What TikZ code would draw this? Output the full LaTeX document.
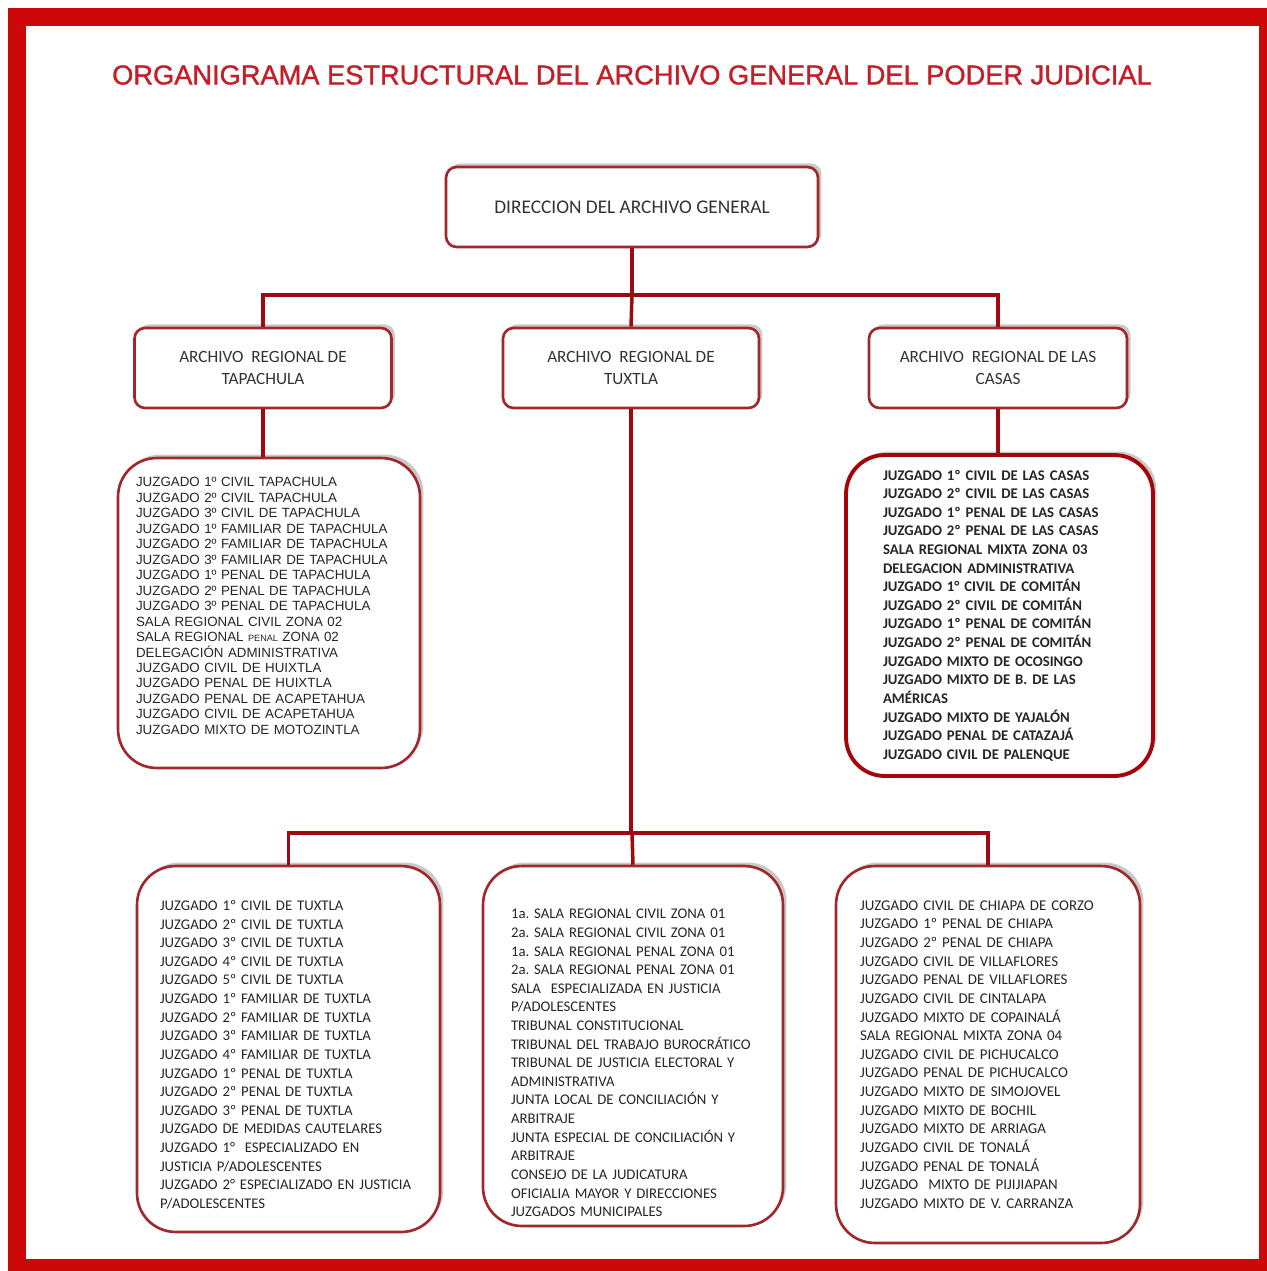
\documentclass[tikz,border=0pt]{standalone}
\usepackage{fontspec}
\setmainfont{Carlito}
\newfontfamily\arialfont{Liberation Sans}
\newfontfamily\titlefont[FakeBold=1.2]{Liberation Sans}
\usetikzlibrary{positioning, shadows, calc}
\definecolor{framered} {RGB}{204, 8, 8}
\definecolor{titlered} {RGB}{196, 30, 40}
\definecolor{linkred}  {RGB}{160, 8, 18}
\definecolor{boxred}   {RGB}{160, 40, 45}
\definecolor{listred}  {RGB}{165, 5, 10}
% struts that push a list up or down inside its box
\newcommand\padtop[1]{\rule{0pt}{#1}}
\newcommand\padbot[1]{\rule[-#1]{0pt}{#1}}
\tikzset{
	headbox/.style={
		rectangle, rounded corners=6pt,
		minimum height=1.6cm,
		align=center, text=black!80,
		font=\fontsize{9.8}{12}\selectfont,
		draw=boxred, line width=1.5pt, fill=white,
		drop shadow={shadow xshift=2pt, shadow yshift=2pt, opacity=0.35, fill=black!60}
	},
	listbox/.style={
		rectangle, rounded corners=22pt,
		align=left, text=black!85,
		draw=boxred, line width=1.5pt, fill=white,
		drop shadow={shadow xshift=2pt, shadow yshift=2pt, opacity=0.35, fill=black!60}
	},
	link/.style={
		draw=linkred, line width=2pt
	}
}

\begin{document}
\frenchspacing
\begin{tikzpicture}[x=0.02cm, y=-0.02cm]
	
	%% ═══════════════════════════════
	%%  FRAME
	%% ═══════════════════════════════
	\fill[white] (0,0) rectangle (1267,1271);
	\fill[framered] (8,8) rectangle (1267,1271);
	\fill[white] (26,26) rectangle (1259,1259);
	
	\node[text=titlered, font=\titlefont\fontsize{15.5}{18}\selectfont] (title) at (632,75)
	{ORGANIGRAMA ESTRUCTURAL DEL ARCHIVO GENERAL DEL PODER JUDICIAL};
	
	%% ═══════════════════════════════
	%%  ROW 1 — DIRECCION
	%% ═══════════════════════════════
	\node[headbox, minimum width=7.44cm, font=\fontsize{11}{12}\selectfont] (dir) at (632,207) {DIRECCION DEL ARCHIVO GENERAL};
	
	%% ═══════════════════════════════
	%%  ROW 2 — ARCHIVOS REGIONALES
	%% ═══════════════════════════════
	\node[headbox, minimum width=5.14cm] (tap)   at (263,368) {ARCHIVO~ REGIONAL DE\\TAPACHULA};
	\node[headbox, minimum width=5.12cm] (tux)   at (631,368) {ARCHIVO~ REGIONAL DE\\TUXTLA};
	\node[headbox, minimum width=5.16cm] (casas) at (998,368) {ARCHIVO~ REGIONAL DE LAS\\CASAS};
	
	%% ═══════════════════════════════
	%%  ROW 3 — JUZGADOS TAPACHULA / LAS CASAS
	%% ═══════════════════════════════
	\node[listbox, minimum width=6.04cm, minimum height=6.2cm,
	inner xsep=0.36cm, text width=5.32cm,
	font=\arialfont\fontsize{7.6}{8.8}\selectfont] (taplist) at (269,613) {%
		JUZGADO 1º CIVIL TAPACHULA\\
		JUZGADO 2º CIVIL TAPACHULA\\
		JUZGADO 3º CIVIL DE TAPACHULA\\
		JUZGADO 1º FAMILIAR DE TAPACHULA\\
		JUZGADO 2º FAMILIAR DE TAPACHULA\\
		JUZGADO 3º FAMILIAR DE TAPACHULA\\
		JUZGADO 1º PENAL DE TAPACHULA\\
		JUZGADO 2º PENAL DE TAPACHULA\\
		JUZGADO 3º PENAL DE TAPACHULA\\
		SALA REGIONAL CIVIL ZONA 02\\
		SALA REGIONAL {\fontsize{5.2}{8.8}\selectfont PENAL} ZONA 02\\
		DELEGACIÓN ADMINISTRATIVA\\
		JUZGADO CIVIL DE HUIXTLA\\
		JUZGADO PENAL DE HUIXTLA\\
		JUZGADO PENAL DE ACAPETAHUA\\
		JUZGADO CIVIL DE ACAPETAHUA\\
		JUZGADO MIXTO DE MOTOZINTLA\padbot{8pt}};
	
	\node[listbox, draw=listred, line width=2.2pt,
	minimum width=6.14cm, minimum height=6.42cm,
	inner xsep=0.74cm, text width=4.66cm,
	font=\bfseries\fontsize{8.4}{10.6}\selectfont] (casaslist) at (999.5,615.5) {%
		JUZGADO 1º CIVIL DE LAS CASAS\\
		JUZGADO 2º CIVIL DE LAS CASAS\\
		JUZGADO 1º PENAL DE LAS CASAS\\
		JUZGADO 2º PENAL DE LAS CASAS\\
		SALA REGIONAL MIXTA ZONA 03\\
		DELEGACION ADMINISTRATIVA\\
		JUZGADO 1° CIVIL DE COMITÁN\\
		JUZGADO 2º CIVIL DE COMITÁN\\
		JUZGADO 1º PENAL DE COMITÁN\\
		JUZGADO 2º PENAL DE COMITÁN\\
		JUZGADO MIXTO DE OCOSINGO\\
		JUZGADO MIXTO DE B. DE LAS\\
		AMÉRICAS\\
		JUZGADO MIXTO DE YAJALÓN\\
		JUZGADO PENAL DE CATAZAJÁ\\
		JUZGADO CIVIL DE PALENQUE};
	
	%% ═══════════════════════════════
	%%  ROW 4 — JUZGADOS TUXTLA
	%% ═══════════════════════════════
	\node[listbox, minimum width=6.06cm, minimum height=7.32cm,
	inner xsep=0.46cm, text width=5.14cm,
	font=\fontsize{8.4}{10.6}\selectfont] (tuxa) at (288.5,1049) {%
		\padtop{12.2pt}JUZGADO 1º CIVIL DE TUXTLA\\
		JUZGADO 2º CIVIL DE TUXTLA\\
		JUZGADO 3º CIVIL DE TUXTLA\\
		JUZGADO 4º CIVIL DE TUXTLA\\
		JUZGADO 5º CIVIL DE TUXTLA\\
		JUZGADO 1º FAMILIAR DE TUXTLA\\
		JUZGADO 2º FAMILIAR DE TUXTLA\\
		JUZGADO 3º FAMILIAR DE TUXTLA\\
		JUZGADO 4º FAMILIAR DE TUXTLA\\
		JUZGADO 1º PENAL DE TUXTLA\\
		JUZGADO 2º PENAL DE TUXTLA\\
		JUZGADO 3º PENAL DE TUXTLA\\
		JUZGADO DE MEDIDAS CAUTELARES\\
		JUZGADO 1°~ ESPECIALIZADO EN\\
		JUSTICIA P/ADOLESCENTES\\
		JUZGADO 2° ESPECIALIZADO EN JUSTICIA\\
		P/ADOLESCENTES};
	
	\node[listbox, minimum width=6cm, minimum height=7.2cm,
	inner xsep=0.56cm, text width=4.88cm,
	font=\fontsize{8.4}{10.6}\selectfont] (tuxb) at (633,1046) {%
		\padtop{24.8pt}1a. SALA REGIONAL CIVIL ZONA 01\\
		2a. SALA REGIONAL CIVIL ZONA 01\\
		1a. SALA REGIONAL PENAL ZONA 01\\
		2a. SALA REGIONAL PENAL ZONA 01\\
		SALA~ ESPECIALIZADA EN JUSTICIA\\
		P/ADOLESCENTES\\
		TRIBUNAL CONSTITUCIONAL\\
		TRIBUNAL DEL TRABAJO BUROCRÁTICO\\
		TRIBUNAL DE JUSTICIA ELECTORAL Y\\
		ADMINISTRATIVA\\
		JUNTA LOCAL DE CONCILIACIÓN Y\\
		ARBITRAJE\\
		JUNTA ESPECIAL DE CONCILIACIÓN Y\\
		ARBITRAJE\\
		CONSEJO DE LA JUDICATURA\\
		OFICIALIA MAYOR Y DIRECCIONES\\
		JUZGADOS MUNICIPALES};
	
	\node[listbox, minimum width=6.08cm, minimum height=7.54cm,
	inner xsep=0.48cm, text width=5.12cm,
	font=\fontsize{8.5}{10.6}\selectfont] (tuxc) at (988,1054.5) {%
		JUZGADO CIVIL DE CHIAPA DE CORZO\\
		JUZGADO 1º PENAL DE CHIAPA\\
		JUZGADO 2º PENAL DE CHIAPA\\
		JUZGADO CIVIL DE VILLAFLORES\\
		JUZGADO PENAL DE VILLAFLORES\\
		JUZGADO CIVIL DE CINTALAPA\\
		JUZGADO MIXTO DE COPAINALÁ\\
		SALA REGIONAL MIXTA ZONA 04\\
		JUZGADO CIVIL DE PICHUCALCO\\
		JUZGADO PENAL DE PICHUCALCO\\
		JUZGADO MIXTO DE SIMOJOVEL\\
		JUZGADO MIXTO DE BOCHIL\\
		JUZGADO MIXTO DE ARRIAGA\\
		JUZGADO CIVIL DE TONALÁ\\
		JUZGADO PENAL DE TONALÁ\\
		JUZGADO~ MIXTO DE PIJIJIAPAN\\
		JUZGADO MIXTO DE V. CARRANZA};
	
	%% ═══════════════════════════════
	%%  LINKS
	%% ═══════════════════════════════
	\coordinate (bus1) at (632,295);
	\coordinate (bus2) at (632,833);
	
	% Direccion → archivos regionales
	\draw[link] (dir.south) -- (bus1);
	\draw[link] (bus1) -| (tap.north);
	\draw[link] (bus1) -| (casas.north);
	\draw[link] (bus1) -- (tux.north);
	
	% Archivos regionales → juzgados
	\draw[link] (tap.south) -- (tap.south |- taplist.north);
	\draw[link] (casas.south) -- (casas.south |- casaslist.north);
	
	% Tuxtla → three lists
	\draw[link] (tux.south) -- (tux.south |- bus2);
	\draw[link] (bus2) -| (tuxa.north);
	\draw[link] (bus2) -| (tuxc.north);
	\draw[link] (bus2) -- (tuxb.north);
\end{tikzpicture}
\end{document}
